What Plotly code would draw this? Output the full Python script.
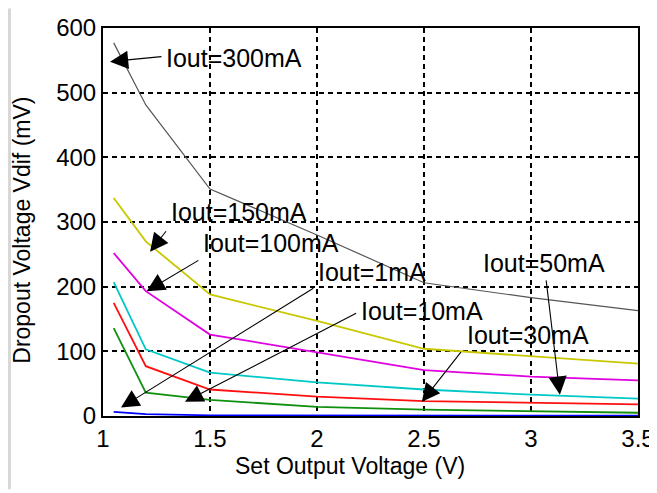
import plotly.graph_objects as go

# Data
v_out = [1.05, 1.2, 1.5, 2.0, 2.5, 3.0, 3.5]
i300 = [577, 481, 351, 280, 206, 183, 163]
i150 = [337, 270, 188, 147, 104, 92, 81]
i100 = [252, 193, 126, 98, 71, 61, 55]
i50 = [207, 103, 67, 52, 41, 33, 27]
i30 = [175, 77, 41, 30, 23, 21, 18]
i10 = [136, 36, 25, 14, 10, 8, 5]
i1 = [6.5, 3, 1, 0.8, 0.6, 0.5, 0.5]

x_ticks = [1, 1.5, 2, 2.5, 3, 3.5]
x_tick_labels = ["1", "1.5", "2", "2.5", "3", "3.5"]
y_ticks = [0, 100, 200, 300, 400, 500, 600]

x_title = "Set Output Voltage (V)"
y_title = "Dropout Voltage Vdif (mV)"

series = [
    ("Iout=300mA", i300, "#555555", 1.2),
    ("Iout=150mA", i150, "#c8c800", 1.8),
    ("Iout=100mA", i100, "#e000e0", 1.8),
    ("Iout=50mA", i50, "#00c8c8", 1.8),
    ("Iout=30mA", i30, "#ff1010", 1.8),
    ("Iout=10mA", i10, "#109010", 1.8),
    ("Iout=1mA", i1, "#0000ff", 1.8),
]

fig = go.Figure()
for name, ys, color, w in series:
    fig.add_trace(go.Scatter(x=v_out, y=ys, mode="lines", name=name,
                             line=dict(color=color, width=w), showlegend=False))

FONT = "Liberation Sans, Arial, sans-serif"

# label text centres and arrow (tail -> head) in data coordinates
labels = [
    ("Iout=300mA", 1.612, 554, 1.28, 556, 1.033, 548),
    ("Iout=150mA", 1.636, 315, 1.30, 288, 1.22, 254),
    ("Iout=100mA", 1.785, 268, 1.453, 242, 1.204, 193),
    ("Iout=1mA", 2.257, 223, 1.99, 199, 1.084, 13),
    ("Iout=10mA", 2.49, 162, 2.19, 160, 1.383, 22),
    ("Iout=30mA", 2.986, 126, 2.678, 101, 2.49, 22),
    ("Iout=50mA", 3.06, 237, 3.07, 212, 3.135, 33),
]
for text, tx, ty, ax_, ay_, hx, hy in labels:
    fig.add_annotation(x=hx, y=hy, ax=ax_, ay=ay_, xref="x", yref="y",
                       axref="x", ayref="y", text="", showarrow=True,
                       arrowhead=2, arrowsize=3.3, arrowwidth=1.1,
                       arrowcolor="black", standoff=0, startstandoff=0)
    fig.add_annotation(x=tx, y=ty, xref="x", yref="y", text=text,
                       xanchor="center", yanchor="middle",
                       showarrow=False, font=dict(family=FONT, size=25, color="black"))

# axis titles
fig.add_annotation(x=0.4617, y=-0.13, xref="paper", yref="paper", text=x_title,
                   xanchor="center", yanchor="middle",
                   showarrow=False, font=dict(family=FONT, size=23, color="black"))
fig.add_annotation(x=-0.1514, y=0.4775, xref="paper", yref="paper", text=y_title,
                   xanchor="center", yanchor="middle",
                   textangle=-90, showarrow=False,
                   font=dict(family=FONT, size=23, color="black"))

# light grey bar on left edge
fig.add_shape(type="line", xref="paper", yref="paper",
              x0=-0.1748, x1=-0.1748, y0=-0.189, y1=1.05,
              line=dict(color="#d8d8d8", width=3))

axis_common = dict(showline=True, linecolor="black", linewidth=2, mirror=True,
                   showgrid=True, gridcolor="black", gridwidth=1.5,
                   griddash="5px,4px", zeroline=False, ticks="",
                   automargin=False,
                   tickfont=dict(family=FONT, size=24, color="black"))

fig.update_xaxes(range=[1, 3.5], tickvals=x_ticks, ticktext=x_tick_labels,
                 **axis_common)
fig.update_yaxes(range=[0, 600], tickvals=y_ticks, **axis_common)

fig.update_layout(width=649, height=485,
                  margin=dict(l=95, r=19, t=20, b=76.5),
                  plot_bgcolor="white", paper_bgcolor="white")

fig.write_html("out.html")
